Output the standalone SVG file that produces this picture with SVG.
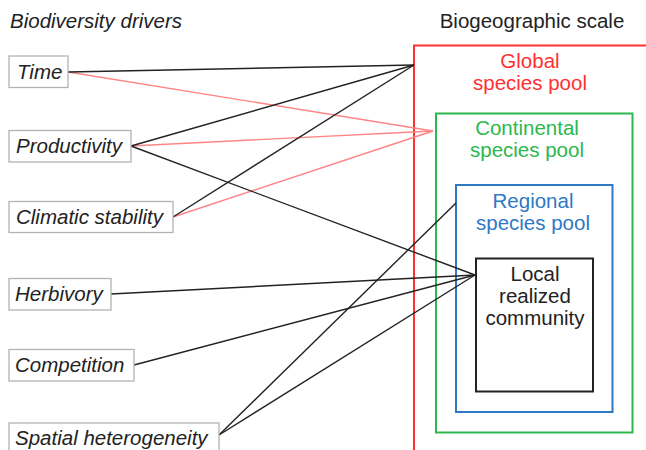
<svg xmlns="http://www.w3.org/2000/svg" width="646" height="450" viewBox="0 0 646 450">
<style>
text{font-family:"Liberation Sans",Arial,sans-serif;font-size:20.5px;fill:#222}
.it{font-style:italic}
.mid{text-anchor:middle}
.drv{fill:#fff;stroke:#b3b3b3;stroke-width:1.3}
.k{stroke:#222;stroke-width:1.4;fill:none}
.p{stroke:#ff8585;stroke-width:1.4;fill:none}
</style>
<rect width="646" height="450" fill="#fff"/>
<text class="it" x="10" y="28">Biodiversity drivers</text>
<text class="mid" x="532" y="28">Biogeographic scale</text>

<g id="global">
<rect x="414" y="45.5" width="250" height="420" fill="none" stroke="#ff3030" stroke-width="2"/>
<text class="mid" x="530" y="68" style="fill:#ff3030">Global</text>
<text class="mid" x="530" y="90" style="fill:#ff3030">species pool</text>
</g>
<g id="continental">
<rect x="436" y="113.5" width="196.5" height="319" fill="none" stroke="#2db84d" stroke-width="2"/>
<text class="mid" x="527" y="135" style="fill:#2db84d">Continental</text>
<text class="mid" x="527" y="157" style="fill:#2db84d">species pool</text>
</g>
<g id="regional">
<rect x="456" y="185" width="156.5" height="227" fill="none" stroke="#2f78c4" stroke-width="2"/>
<text class="mid" x="533" y="208" style="fill:#2f78c4">Regional</text>
<text class="mid" x="533" y="230" style="fill:#2f78c4">species pool</text>
</g>
<g id="local">
<rect x="476" y="258.5" width="117" height="133" fill="none" stroke="#222" stroke-width="2"/>
<text class="mid" x="535" y="281">Local</text>
<text class="mid" x="535" y="303">realized</text>
<text class="mid" x="535" y="325">community</text>
</g>

<g id="connectors">
<line class="p" x1="68" y1="72" x2="433" y2="131"/>
<line class="p" x1="131" y1="146" x2="433" y2="131"/>
<line class="p" x1="173" y1="217" x2="433" y2="131"/>
<line class="k" x1="68" y1="72" x2="414" y2="65"/>
<line class="k" x1="131" y1="146" x2="414" y2="65"/>
<line class="k" x1="173" y1="217" x2="414" y2="65"/>
<line class="k" x1="131" y1="146" x2="475" y2="275"/>
<line class="k" x1="111" y1="294" x2="475" y2="275"/>
<line class="k" x1="134" y1="365" x2="475" y2="275"/>
<line class="k" x1="219" y1="435" x2="475" y2="275"/>
<line class="k" x1="219" y1="435" x2="456" y2="203"/>
</g>

<g id="time">
<rect class="drv" x="9" y="56" width="59" height="31.5"/>
<text class="it" x="17" y="79">Time</text>
</g>
<g id="productivity">
<rect class="drv" x="9" y="130.5" width="122" height="31.5"/>
<text class="it" x="16" y="153">Productivity</text>
</g>
<g id="climatic">
<rect class="drv" x="9" y="201.5" width="164" height="31"/>
<text class="it" x="16" y="224">Climatic stability</text>
</g>
<g id="herbivory">
<rect class="drv" x="9" y="278.5" width="102" height="31.5"/>
<text class="it" x="15" y="301">Herbivory</text>
</g>
<g id="competition">
<rect class="drv" x="9" y="349.5" width="125" height="31.5"/>
<text class="it" x="15" y="372">Competition</text>
</g>
<g id="spatial">
<rect class="drv" x="9" y="423" width="210" height="35"/>
<text class="it" x="15" y="445">Spatial heterogeneity</text>
</g>
</svg>
